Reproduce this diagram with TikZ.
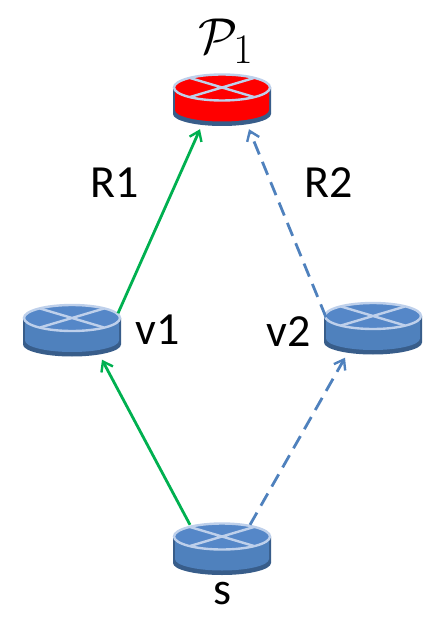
\documentclass[tikz,border=0pt]{standalone}
\usepackage{amsmath,amssymb}
\usepackage{fontspec}
\setmainfont{Carlito}
\usepackage{xcolor}
\definecolor{routerBlue}{RGB}{79, 129, 189}
\definecolor{routerTop}{RGB}{85, 135, 200}
\definecolor{routerRim}{RGB}{56, 93, 138}
\definecolor{routerEdge}{RGB}{190, 208, 235}
\definecolor{pathGreen}{RGB}{0, 176, 80}
\usetikzlibrary{
    arrows.meta,
    calc
}

\newcommand{\routerShape}[2]{
    \begin{scope}[shift={(path picture bounding box.center)}]
        \fill[routerRim] (-49,-12.5) -- (-49,14) arc[start angle=180, end angle=0, x radius=49, y radius=12] -- (49,-12.5) -- cycle;
        \fill[#1] (-47,-12.5) -- (-47,10) arc[start angle=180, end angle=0, x radius=47, y radius=11.5] -- (47,-12.5) -- cycle;
        \draw[routerEdge, line width=2.4pt, fill=#2] (0,-12.5) ellipse[x radius=48, y radius=13];
        \draw[routerEdge, line width=2.4pt] (-32,-22) -- (32,-3) (-32,-3) -- (32,-22);
    \end{scope}
}

\begin{document}
\begin{tikzpicture}[
    x=1pt, y=-1pt,
    routerNode/.style={
        rectangle, draw=none, inner sep=0pt,
        minimum width=102pt, minimum height=56pt
    },
    blueRouter/.style={
        routerNode, path picture={\routerShape{routerBlue}{routerTop}}
    },
    redRouter/.style={
        routerNode, path picture={\routerShape{red}{red}}
    },
    nodeLabel/.style={
        font=\fontsize{46}{50}\selectfont, text=black, inner sep=0pt
    },
    usedArrow/.style={
        -{Straight Barb[length=9pt, width=13pt, line width=2.4pt]}, line width=2.8pt, draw=pathGreen
    },
    altArrow/.style={
        -{Straight Barb[length=9pt, width=13pt, line width=2.4pt]}, line width=2.8pt, draw=routerBlue,
        dash pattern=on 14pt off 8pt
    }
]
    \useasboundingbox (0,0) rectangle (445,617);

    % Routers
    \node[redRouter] (p1) at (222,100) {};
    \node[blueRouter] (v1) at (72,330.5) {};
    \node[blueRouter] (v2) at (373,328.5) {};
    \node[blueRouter] (s) at (222,549) {};

    % Labels
    \node[nodeLabel, font=\fontsize{24.88}{30}\selectfont] (p1Label) at (226,41) {\scalebox{2.03}{$\mathcal{P}_1$}};
    \node[nodeLabel] (r1Label) at (115,183) {R1};
    \node[nodeLabel] (r2Label) at (329,183) {R2};
    \node[nodeLabel] (v1Label) at (158,330) {v1};
    \node[nodeLabel] (v2Label) at (289,332) {v2};
    \node[nodeLabel] (sLabel) at (222,594) {s};

    % Paths
    \draw[usedArrow] ([xshift=46pt,yshift=-11pt]v1.north) -- ([xshift=-22pt,yshift=-1pt]p1.south);
    \draw[usedArrow] ([xshift=-32pt,yshift=-4pt]s.north) -- ([xshift=30pt,yshift=-1pt]v1.south);
    \draw[altArrow] ([xshift=-47pt,yshift=-17pt]v2.north) -- ([xshift=27pt,yshift=-1pt]p1.south);
    \draw[altArrow] ([xshift=28pt,yshift=-4pt]s.north) -- ([xshift=-28pt,yshift=-1pt]v2.south);

\end{tikzpicture}
\end{document}
